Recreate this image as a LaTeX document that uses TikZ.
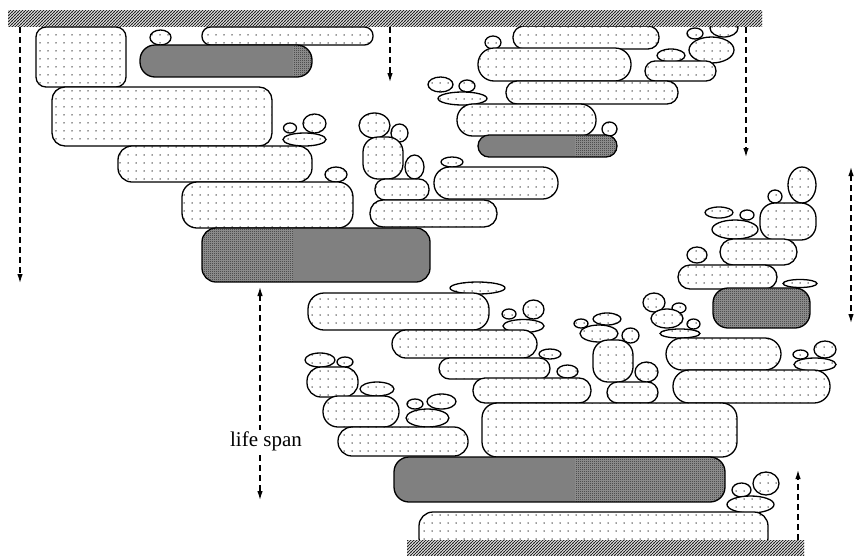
\documentclass[tikz,border=0pt]{standalone}
\usepackage{fontspec}
\setmainfont{Liberation Serif}
\usetikzlibrary{patterns,arrows.meta}

% sparse dot fill of the cells
\pgfdeclarepatternformonly{sparsedots}{\pgfqpoint{-1pt}{-1pt}}{\pgfqpoint{1pt}{1pt}}{\pgfqpoint{8pt}{8pt}}%
  {\pgfpathcircle{\pgfpointorigin}{0.75pt}\pgfusepath{fill}}
% dense diagonal hatching of the two walls
\pgfdeclarepatternformonly{wallhatch}{\pgfqpoint{-1pt}{-1pt}}{\pgfqpoint{4pt}{4pt}}{\pgfqpoint{3pt}{3pt}}%
  {\pgfsetlinewidth{0.9pt}\pgfpathmoveto{\pgfqpoint{-0.2pt}{-0.2pt}}\pgfpathlineto{\pgfqpoint{3.2pt}{3.2pt}}\pgfusepath{stroke}}
% fine checker of the meshed dark cells
\pgfdeclarepatternformonly{finemesh}{\pgfqpoint{0pt}{0pt}}{\pgfqpoint{2pt}{2pt}}{\pgfqpoint{2pt}{2pt}}%
  {\pgfpathrectangle{\pgfqpoint{0pt}{0pt}}{\pgfqpoint{1pt}{1pt}}%
   \pgfpathrectangle{\pgfqpoint{1pt}{1pt}}{\pgfqpoint{1pt}{1pt}}\pgfusepath{fill}}

\tikzset{
  cell/.style={draw=black, line width=1.3pt, preaction={fill=white},
               pattern=sparsedots, pattern color=black!80},
  outline/.style={draw=black, line width=1.3pt},
  solidgray/.style={fill=black!50},
  meshgray/.style={fill=black!40, postaction={pattern=finemesh, pattern color=black!85}},
  wall/.style={preaction={fill=white}, pattern=wallhatch, pattern color=black!85},
  span/.style={draw=black, line width=1.2pt, dash pattern=on 6pt off 4pt,
               -{Latex[length=9pt,width=5.5pt]}},
  twospan/.style={span, {Latex[length=9pt,width=5.5pt]}-{Latex[length=9pt,width=5.5pt]}},
  spanlabel/.style={fill=white, inner sep=1pt, font=\fontsize{21}{23}\selectfont},
}

% rounded cell: x1 y1 x2 y2 radius
\newcommand\cellbox[5]{\path[cell,rounded corners=#5pt] (#1,#2) rectangle (#3,#4);}
% elliptic cell: cx cy rx ry
\newcommand\cellblob[4]{\path[cell] (#1,#2) ellipse [x radius=#3pt, y radius=#4pt];}
% dark cell split in two tones: x1 y1 x2 y2 radius split leftstyle rightstyle
\newcommand\darkcell[8]{%
  \begin{scope}
    \clip[rounded corners=#5pt] (#1,#2) rectangle (#3,#4);
    \path[#7] (#1,#2) rectangle (#6,#4);
    \path[#8] (#6,#2) rectangle (#3,#4);
  \end{scope}
  \draw[outline,rounded corners=#5pt] (#1,#2) rectangle (#3,#4);}

\begin{document}
\begin{tikzpicture}[x=1pt,y=-1pt]
\useasboundingbox (0,0) rectangle (854,555);

% ---- upper-left stack
\cellbox{36}{27}{126}{87}{10}
\cellbox{202}{27}{373}{45}{8.5}
\cellblob{160.5}{37.5}{10.5}{7.5}
\darkcell{140}{45}{312}{77}{15}{293}{solidgray}{meshgray}
\cellbox{52}{87}{272}{146}{13}
\cellblob{290}{128}{6.5}{5}
\cellblob{314.5}{123.5}{11.5}{9.5}
\cellblob{304.5}{139.5}{21.5}{6.5}
\cellbox{118}{146}{312}{182}{14}
\cellblob{336}{174.5}{11}{7.5}
\cellbox{182}{182}{353}{228}{15}
\darkcell{202}{228}{430}{282}{14}{293}{meshgray}{solidgray}

% ---- middle column
\cellblob{374.5}{125.5}{15.5}{12.5}
\cellblob{399.5}{133}{8.5}{9}
\cellbox{363}{137}{403}{179}{15}
\cellblob{414.5}{167}{9.5}{12}
\cellbox{375}{179}{429}{200}{10}
\cellbox{370}{200}{497}{227}{13}
\cellblob{452}{162}{11}{5}
\cellbox{434}{167}{558}{199}{15.5}

% ---- upper-right stack
\cellblob{724}{28}{14}{9}
\cellbox{513}{26}{659}{49}{11}
\cellblob{493}{42.5}{8}{6.5}
\cellbox{478}{48}{631}{81}{16}
\cellblob{695}{33.5}{8}{5.5}
\cellblob{711.5}{50}{22.5}{13}
\cellblob{671}{55.5}{14}{6.5}
\cellbox{645}{61}{716}{81}{10}
\cellbox{506}{81}{678}{104}{11}
\cellblob{440.5}{84.5}{12.5}{7.5}
\cellblob{467}{86}{8}{6}
\cellblob{462.5}{98.5}{24.5}{6.5}
\cellbox{457}{104}{596}{136}{15.5}
\cellblob{609.5}{129}{7.5}{7}
\darkcell{478}{135}{617}{157}{11}{575}{solidgray}{meshgray}

% ---- right stack
\cellblob{802}{185}{14}{18}
\cellblob{775}{196.5}{7}{6.5}
\cellbox{760}{203}{816}{240}{15}
\cellblob{719}{212.5}{14}{5.5}
\cellblob{747}{215}{7}{5}
\cellblob{735}{229.5}{23}{9.5}
\cellbox{720}{239}{797}{265}{13}
\cellblob{697}{255}{10}{8}
\cellbox{678}{265}{777}{289}{12}
\cellblob{800}{283.5}{17}{4}
\darkcell{713}{288}{810}{328}{15}{713}{meshgray}{meshgray}

% ---- lower-middle stack
\cellblob{477.5}{288}{27.5}{6}
\cellbox{308}{293}{489}{330}{16}
\cellblob{509}{314}{7}{5}
\cellblob{533.5}{309.5}{10.5}{9.5}
\cellblob{523.5}{326}{20.5}{6.5}
\cellbox{392}{330}{537}{358}{14}
\cellblob{550}{354}{11}{5}
\cellbox{439}{358}{550}{379}{10.5}
\cellblob{567.5}{371.5}{10.5}{6.5}
\cellbox{473}{378}{591}{403}{12}

\cellblob{581}{323.5}{7}{4.5}
\cellblob{607}{319}{14}{6}
\cellblob{599}{333.5}{19}{8.5}
\cellblob{630.5}{335.5}{8.5}{7.5}
\cellbox{593}{340}{633}{382}{15}
\cellblob{646.5}{372}{11.5}{10}
\cellbox{607}{382}{658}{403}{10.5}

\cellblob{654}{302.5}{11}{9.5}
\cellblob{679}{308}{7}{5}
\cellblob{667}{318.5}{16}{9.5}
\cellblob{693.5}{324}{6.5}{5}
\cellblob{680}{333.5}{20}{4.5}
\cellbox{666}{338}{781}{370}{16}
\cellblob{800.5}{354.5}{7.5}{4.5}
\cellblob{825}{349.5}{11}{8.5}
\cellblob{815}{364.5}{21}{6.5}
\cellbox{673}{370}{830}{403}{16}

\cellbox{482}{403}{737}{457}{15}

% ---- lower-left stack
\cellblob{320}{360}{15}{7}
\cellblob{345}{362}{8}{5}
\cellbox{307}{367}{358}{397}{14}
\cellblob{377}{389}{17}{7}
\cellbox{323}{396}{399}{427}{15}
\cellblob{415}{404}{8}{5}
\cellblob{441.5}{401.5}{14.5}{7.5}
\cellblob{427.5}{418}{21.5}{9}
\cellbox{338}{427}{468}{456}{14}

\darkcell{394}{457}{725}{502}{15}{575}{solidgray}{meshgray}
\cellblob{741.5}{490}{9.5}{7}
\cellblob{766}{483.5}{13}{11.5}
\cellblob{750.5}{504.5}{23.5}{8.5}
\cellbox{419}{512}{768}{552}{14}

% ---- walls
\path[wall] (8,10) rectangle (762,26);
\path[wall] (407,540) rectangle (804,555);

% ---- dashed spans
\coordinate (l1) at (20,27);   \coordinate (l2) at (20,283);
\coordinate (m1) at (390,27);  \coordinate (m2) at (390,82);
\coordinate (r1) at (746,27);  \coordinate (r2) at (746,157);
\coordinate (e1) at (851,167); \coordinate (e2) at (851,323);
\coordinate (s1) at (260,287); \coordinate (s2) at (260,500);
\coordinate (b1) at (798,540); \coordinate (b2) at (798,470);
\draw[span] (l1) -- (l2);
\draw[span] (m1) -- (m2);
\draw[span] (r1) -- (r2);
\draw[twospan] (e1) -- (e2);
\draw[twospan] (s1) -- (s2);
\draw[span] (b1) -- (b2);
\node[spanlabel] (lifespan) at (266,441) {life span};
\end{tikzpicture}
\end{document}
